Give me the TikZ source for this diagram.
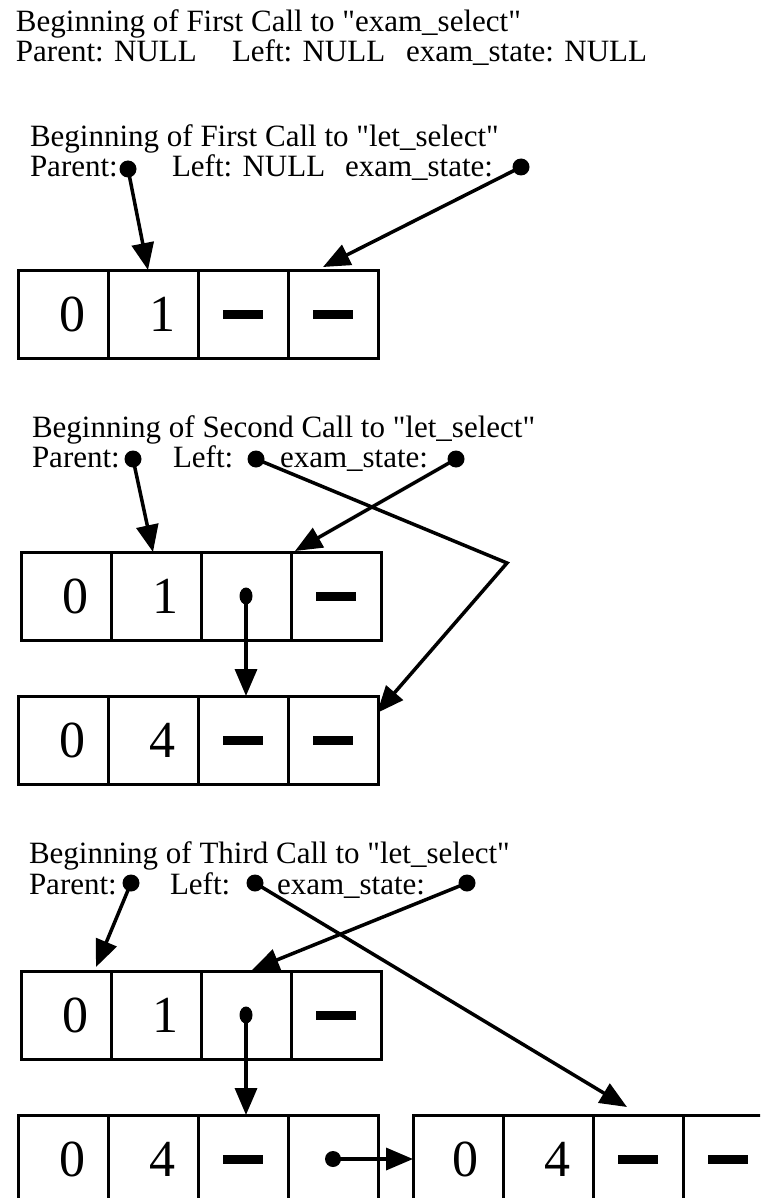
\documentclass[tikz,border=0pt]{standalone}
\usepackage{fontspec}
\setmainfont{Liberation Serif}
\usetikzlibrary{arrows.meta,calc,shapes.geometric}
\newcommand{\qt}[1]{\textquotedbl#1\textquotedbl}

\begin{document}
\begin{tikzpicture}[x=1pt,y=-1pt,
  every node/.style={inner sep=0pt,outer sep=0pt},
  caption/.style={anchor=base west,font=\fontsize{31}{31}\selectfont},
  cell/.style={draw,line width=3pt,minimum width=90pt,minimum height=88pt,anchor=north west},
  num/.style={font=\fontsize{52}{52}\selectfont},
  bar/.style={fill,minimum width=40pt,minimum height=9pt},
  dot/.style={circle,fill,minimum size=17pt},
  ptr/.style={ellipse,fill,minimum width=13pt,minimum height=17pt},
  rptr/.style={circle,fill,minimum size=16pt},
  link/.style={line width=3.5pt,-{Triangle[length=27pt,width=22pt]}}
]
\useasboundingbox (0,0) rectangle (760,1198);
\clip (0,0) rectangle (760,1198);

% ---- state before the first call to exam_select
\node[caption] (t1)  at (16,32)  {Beginning of First Call to \qt{exam\_select}};
\node[caption] (t2a) at (16,62)  {Parent: NULL};
\node[caption] (t2b) at (232,62) {Left: NULL};
\node[caption] (t2c) at (406,62) {exam\_state: NULL};

% ---- first call to let_select
\node[caption] (h1)  at (30,147)  {Beginning of First Call to \qt{let\_select}};
\node[caption] (h1a) at (30,177)  {Parent:};
\node[dot]     (p1)  at (128,169) {};
\node[caption] (h1b) at (172,177) {Left: NULL};
\node[caption] (h1c) at (345,177) {exam\_state:};
\node[dot]     (e1)  at (521,167) {};

\foreach \i in {1,...,4} \node[cell] (A\i) at ({18+90*(\i-1)},270) {};
\node[num] at ([xshift=9pt]A1.center) {0};
\node[num] at ([xshift=9pt]A2.center) {1};
\node[bar] at (A3.center) {};
\node[bar] at (A4.center) {};

\draw[link] (p1.center) -- ($(A2.north west)+(40,0)$);
\draw[link] (e1.center) -- ($(A4.north west)+(35,-3)$);

% ---- second call to let_select
\node[caption] (h2)  at (32,437)  {Beginning of Second Call to \qt{let\_select}};
\node[caption] (h2a) at (32,467)  {Parent:};
\node[dot]     (p2)  at (133,459) {};
\node[caption] (h2b) at (173,467) {Left:};
\node[dot]     (l2)  at (256,459) {};
\node[caption] (h2c) at (280,467) {exam\_state:};
\node[dot]     (e2)  at (456,459) {};

\foreach \i in {1,...,4} \node[cell] (B\i) at ({21+90*(\i-1)},552) {};
\node[num] at ([xshift=9pt]B1.center) {0};
\node[num] at ([xshift=9pt]B2.center) {1};
\node[ptr] (bp) at (B3.center) {};
\node[bar] at (B4.center) {};

\foreach \i in {1,...,4} \node[cell] (C\i) at ({18+90*(\i-1)},696) {};
\node[num] at ([xshift=9pt]C1.center) {0};
\node[num] at ([xshift=9pt]C2.center) {4};
\node[bar] at (C3.center) {};
\node[bar] at (C4.center) {};

\coordinate (bend) at (507,563);
\draw[link] (p2.center) -- ($(B2.north west)+(42,0)$);
\draw[link] (e2.center) -- ($(B4.north west)+(4,-1)$);
\draw[link] (l2.center) -- (bend) -- ($(C4.north east)+(-1,17)$);
\draw[link] (bp.center) -- (bp.center |- C3.north);

% ---- third call to let_select
\node[caption] (h3)  at (29,863)  {Beginning of Third Call to \qt{let\_select}};
\node[caption] (h3a) at (29,894)  {Parent:};
\node[dot]     (p3)  at (131,883) {};
\node[caption] (h3b) at (170,894) {Left:};
\node[dot]     (l3)  at (255,883) {};
\node[caption] (h3c) at (277,894) {exam\_state:};
\node[dot]     (e3)  at (467,883) {};

\foreach \i in {1,...,4} \node[cell] (D\i) at ({21+90*(\i-1)},971) {};
\node[num] at ([xshift=9pt]D1.center) {0};
\node[num] at ([xshift=9pt]D2.center) {1};
\node[ptr] (dp) at (D3.center) {};
\node[bar] at (D4.center) {};

\foreach \i in {1,...,4} \node[cell] (E\i) at ({18+90*(\i-1)},1115) {};
\node[num] at ([xshift=9pt]E1.center) {0};
\node[num] at ([xshift=9pt]E2.center) {4};
\node[bar] at (E3.center) {};
\node[rptr] (ep) at (E4.center) {};

\foreach \i in {1,...,4} \node[cell] (F\i) at ({413+90*(\i-1)},1115) {};
\node[num] at ([xshift=7pt]F1.center) {0};
\node[num] at ([xshift=9pt]F2.center) {4};
\node[bar] at (F3.center) {};
\node[bar] at (F4.center) {};

\draw[link] (p3.center) -- ($(D1.north west)+(75,-4)$);
\draw[link] (e3.center) -- ($(D3.north west)+(51,-1)$);
\draw[link] (l3.center) -- ($(F3.north west)+(34,-8)$);
\draw[link] (dp.center) -- (dp.center |- E3.north);
\draw[link] (ep.center) -- (F1.west);
\end{tikzpicture}
\end{document}
